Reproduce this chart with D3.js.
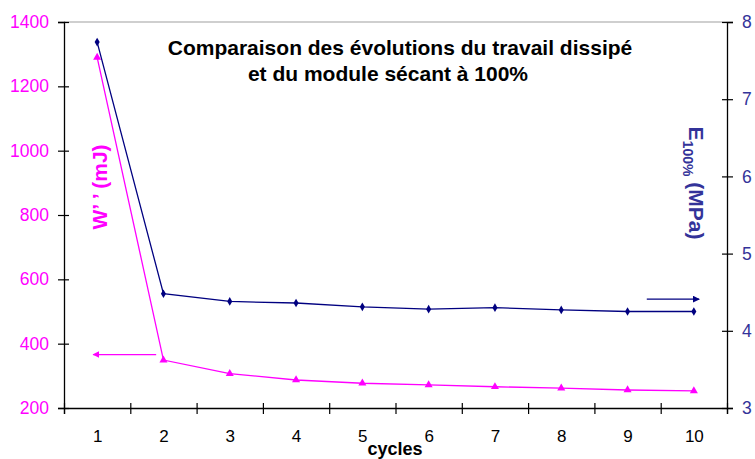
<!DOCTYPE html>
<html>
<head>
<meta charset="utf-8">
<script src="https://cdn.jsdelivr.net/npm/d3@7"></script>
<style>
  html, body { margin: 0; padding: 0; background: #fff; }
  svg { display: block; font-family: "Liberation Sans", Arial, Helvetica, sans-serif; }
</style>
</head>
<body>
<svg id="chart" width="755" height="459"></svg>
<script>
// ---- data ----
const cycles = [1, 2, 3, 4, 5, 6, 7, 8, 9, 10];
const workDissipated = [1290, 349, 307, 287, 277, 272, 266, 262, 256, 253]; // W'' (mJ)
const secantModulus = [7.74, 4.48, 4.38, 4.36, 4.31, 4.28, 4.30, 4.27, 4.25, 4.25]; // E100% (MPa)
const leftTicks = [200, 400, 600, 800, 1000, 1200, 1400];
const rightTicks = [3, 4, 5, 6, 7, 8];
const titleLines = ["Comparaison des évolutions du travail dissipé", "et du module sécant à 100%"];
// arrow annotations (data coordinates: [cycle, value])
const leftArrow = [[1.89, 366], [0.94, 366]];
const rightArrow = [[9.29, 4.41], [10.08, 4.41]];

const pink = "#ff00ff";
const navy = "#000080";
const blueText = "#333399";

const svg = d3.select("#chart");
const m = { left: 64, right: 727, top: 22, bottom: 408 };

const x = d3.scaleLinear().domain([0.5, 10.5]).range([m.left, m.right]);
const yL = d3.scaleLinear().domain([200, 1400]).range([m.bottom, m.top]);
const yR = d3.scaleLinear().domain([3, 8]).range([m.bottom, m.top]);

// top border
svg.append("line").attr("x1", m.left).attr("x2", m.right)
  .attr("y1", m.top).attr("y2", m.top).attr("stroke", "#a0a0a0").attr("stroke-width", 1.2);

// left axis
const gL = svg.append("g").attr("transform", `translate(${m.left},0)`)
  .call(d3.axisLeft(yL).tickValues(leftTicks).tickSize(6).tickPadding(9).tickFormat(d3.format("d")));
gL.select(".domain").attr("stroke", "#000").attr("stroke-width", 1.3);
gL.selectAll(".tick line").attr("x1", 5).attr("stroke", "#000").attr("stroke-width", 1.2);
gL.selectAll(".tick text").attr("fill", pink).style("font-size", "17.5px");

// right axis
const gR = svg.append("g").attr("transform", `translate(${m.right},0)`)
  .call(d3.axisRight(yR).tickValues(rightTicks).tickSize(6).tickPadding(9).tickFormat(d3.format("d")));
gR.select(".domain").attr("stroke", "#000").attr("stroke-width", 1.3);
gR.selectAll(".tick line").attr("x1", -5).attr("stroke", "#000").attr("stroke-width", 1.2);
gR.selectAll(".tick text").attr("fill", blueText).style("font-size", "17.5px");

// bottom axis: boundary ticks
const bounds = d3.range(0.5, 11, 1);
const gB = svg.append("g").attr("transform", `translate(0,${m.bottom})`)
  .call(d3.axisBottom(x).tickValues(bounds).tickSize(6).tickFormat(""));
gB.select(".domain").attr("stroke", "#000").attr("stroke-width", 1.3);
gB.selectAll(".tick line").attr("y1", -5).attr("stroke", "#000").attr("stroke-width", 1.2);
// category labels
const gB2 = svg.append("g").attr("transform", `translate(0,${m.bottom})`)
  .call(d3.axisBottom(x).tickValues(cycles).tickSize(0).tickPadding(22).tickFormat(d3.format("d")));
gB2.select(".domain").remove();
gB2.selectAll(".tick text").attr("fill", "#000").style("font-size", "17px");

// x axis title
svg.append("text").attr("x", 395).attr("y", 454.5).attr("text-anchor", "middle")
  .style("font-size", "18px").style("font-weight", "bold").text("cycles");

// title
svg.append("text").attr("x", 400).attr("y", 55).attr("text-anchor", "middle")
  .style("font-size", "21px").style("font-weight", "bold").text(titleLines[0]);
svg.append("text").attr("x", 388).attr("y", 81).attr("text-anchor", "middle")
  .style("font-size", "21px").style("font-weight", "bold").text(titleLines[1]);

// left y label
svg.append("text").attr("transform", "translate(107,187) rotate(-90)")
  .attr("text-anchor", "middle").attr("fill", pink)
  .style("font-size", "21px").style("font-weight", "bold").text("W’ ’ (mJ)");

// right y label
const rl = svg.append("text").attr("transform", "translate(689,183) rotate(90)")
  .attr("text-anchor", "middle").attr("fill", blueText)
  .style("font-size", "21px").style("font-weight", "bold");
rl.append("tspan").text("E");
rl.append("tspan").attr("dy", 6).style("font-size", "14px").text("100%");
rl.append("tspan").attr("dy", -6).text(" (MPa)");

// lines
const lineL = d3.line().x((d, i) => x(cycles[i])).y(d => yL(d));
const lineR = d3.line().x((d, i) => x(cycles[i])).y(d => yR(d));

svg.append("path").datum(workDissipated).attr("d", lineL)
  .attr("fill", "none").attr("stroke", pink).attr("stroke-width", 1.3);
svg.append("path").datum(secantModulus).attr("d", lineR)
  .attr("fill", "none").attr("stroke", navy).attr("stroke-width", 1.3);

// markers
const tri = d3.symbol().type(d3.symbolTriangle).size(28);
svg.append("g").selectAll("path").data(workDissipated).join("path")
  .attr("d", tri).attr("fill", pink)
  .attr("transform", (d, i) => `translate(${x(cycles[i])},${yL(d)})`);
const dia = d3.symbol().type(d3.symbolDiamond).size(22);
svg.append("g").selectAll("path").data(secantModulus).join("path")
  .attr("d", dia).attr("fill", navy)
  .attr("transform", (d, i) => `translate(${x(cycles[i])},${yR(d)})`);

// arrows
const defs = svg.append("defs");
function marker(id, color) {
  defs.append("marker").attr("id", id).attr("viewBox", "0 0 10 10")
    .attr("refX", 9).attr("refY", 5).attr("markerWidth", 7).attr("markerHeight", 7)
    .attr("markerUnits", "userSpaceOnUse").attr("orient", "auto")
    .append("path").attr("d", "M0,0 L10,5 L0,10 Z").attr("fill", color);
}
marker("arrP", pink);
marker("arrN", navy);
svg.append("line")
  .attr("x1", x(leftArrow[0][0])).attr("y1", yL(leftArrow[0][1]))
  .attr("x2", x(leftArrow[1][0])).attr("y2", yL(leftArrow[1][1]))
  .attr("stroke", pink).attr("stroke-width", 1.3).attr("marker-end", "url(#arrP)");
svg.append("line")
  .attr("x1", x(rightArrow[0][0])).attr("y1", yR(rightArrow[0][1]))
  .attr("x2", x(rightArrow[1][0])).attr("y2", yR(rightArrow[1][1]))
  .attr("stroke", navy).attr("stroke-width", 1.3).attr("marker-end", "url(#arrN)");
</script>
</body>
</html>
